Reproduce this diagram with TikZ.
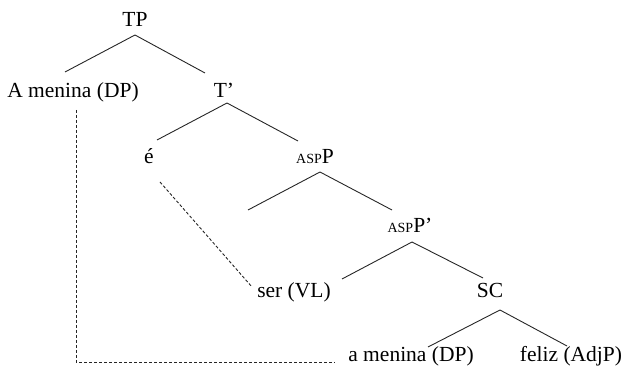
\documentclass[tikz,border=0pt]{standalone}
\usepackage{fontspec}
\setmainfont{Liberation Serif}
\begin{document}
\begin{tikzpicture}[x=1pt,y=-1pt,
  lbl/.style={anchor=base,inner sep=0pt,font=\fontsize{21.5}{24}\selectfont},
  branch/.style={draw=black!85,line width=0.9pt},
  trace/.style={draw=black!85,line width=0.9pt,dash pattern=on 3pt off 2pt}]
\newcommand{\smallcapsasp}{{\fontsize{14}{14}\selectfont ASP}}
\useasboundingbox (0,0) rectangle (625,374);
\node[lbl] (tp) at (135,27) {TP};
\node[lbl] (dp) at (73,98) {A menina (DP)};
\node[lbl] (tbar) at (224,98) {T’};
\node[lbl] (e) at (149,164) {é};
\node[lbl] (asp) at (315,164) {\smallcapsasp P};
\node[lbl] (aspbar) at (410,233) {\smallcapsasp P’};
\node[lbl] (ser) at (294,298) {ser (VL)};
\node[lbl] (sc) at (490,298) {SC};
\node[lbl] (dp2) at (411,362) {a menina (DP)};
\node[lbl] (feliz) at (571,362) {feliz (AdjP)};
\coordinate (empty) at (248,210);
% branches
\draw[branch] ([yshift=-8pt]tp.base) -- ([shift={(-8pt,26pt)}]dp.base);
\draw[branch] ([yshift=-8pt]tp.base) -- ([shift={(-19pt,25pt)}]tbar.base);
\draw[branch] ([shift={(3pt,-5pt)}]tbar.base) -- ([shift={(8pt,24pt)}]e.base);
\draw[branch] ([shift={(3pt,-5pt)}]tbar.base) -- ([shift={(-17pt,23pt)}]asp.base);
\draw[branch] ([shift={(5pt,-8pt)}]asp.base) -- (empty);
\draw[branch] ([shift={(5pt,-8pt)}]asp.base) -- ([shift={(-18pt,23pt)}]aspbar.base);
\draw[branch] ([shift={(2pt,-9pt)}]aspbar.base) -- ([shift={(48pt,19pt)}]ser.base);
\draw[branch] ([shift={(2pt,-9pt)}]aspbar.base) -- ([shift={(-7pt,20pt)}]sc.base);
\draw[branch] ([shift={(10pt,-12pt)}]sc.base) -- ([shift={(17pt,15pt)}]dp2.base);
\draw[branch] ([shift={(10pt,-12pt)}]sc.base) -- ([shift={(-4pt,16pt)}]feliz.base);
% traces
\draw[trace] ([shift={(11pt,-18pt)}]e.base) -- ([shift={(-42pt,11pt)}]ser.base);
\draw[trace] ([shift={(3pt,-12pt)}]dp.base) |- ([xshift=-76pt]dp2.base);
\end{tikzpicture}
\end{document}
